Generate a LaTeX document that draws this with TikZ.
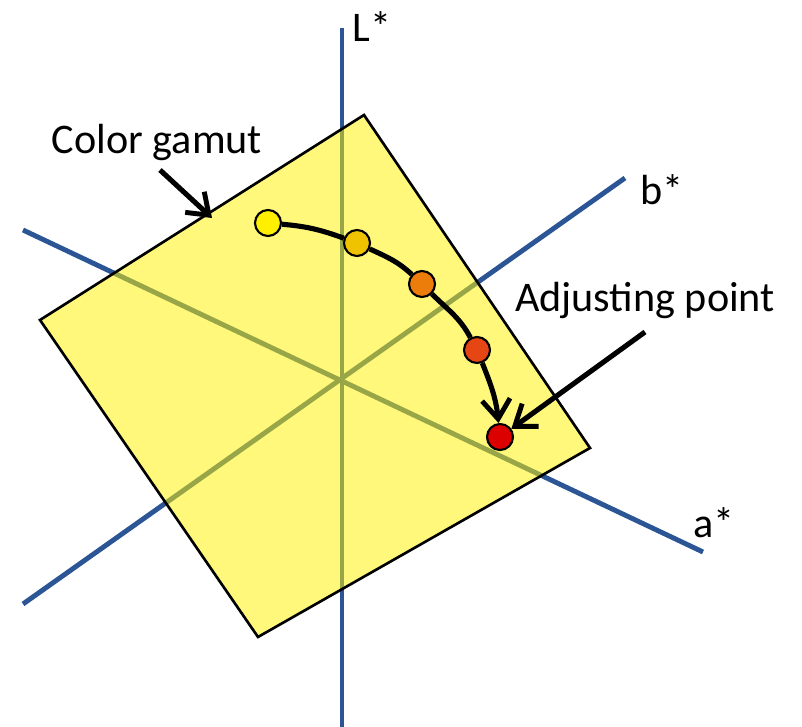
\documentclass[tikz,border=0pt]{standalone}
\usepackage{fontspec}
\setmainfont{Carlito}
\usetikzlibrary{arrows.meta, positioning}

\definecolor{axisblue}{RGB}{43,85,149}
\definecolor{ptyellow}{RGB}{255,240,0}
\definecolor{ptgold}{RGB}{240,195,0}
\definecolor{ptorange}{RGB}{236,125,10}
\definecolor{ptredorange}{RGB}{230,70,20}
\definecolor{ptred}{RGB}{220,0,0}

\begin{document}
\begin{tikzpicture}[
        x=0.02cm, y=0.02cm,
        axis/.style={axisblue, line width=2.8pt},
        gamut/.style={draw=black, line width=1.5pt, fill=yellow, fill opacity=0.52, line join=miter},
        pt/.style={draw=black, circle, line width=1.2pt, minimum size=0.52cm, inner sep=0pt},
        lbl/.style={font=\fontsize{24}{28}\selectfont},
        arrow/.style={-{Straight Barb[length=11pt, width=16pt, line width=2.8pt]}, line width=2.9pt}
    ]
        \useasboundingbox (0,0) rectangle (802,727);

        % === Axes ===
        \coordinate (Ltop) at (342,699);
        \coordinate (Lbot) at (342,0);
        \coordinate (aleft) at (23,497);
        \coordinate (aright) at (703,175);
        \coordinate (bleft) at (23,123);
        \coordinate (bright) at (625,549);
        \draw[axis] (Lbot) -- (Ltop);
        \draw[axis] (aleft) -- (aright);
        \draw[axis] (bleft) -- (bright);

        \node[lbl] (Llbl) at (372,700) {L*};
        \node[lbl] (blbl) at (662,537) {b*};
        \node[lbl] (albl) at (714,204) {a*};

        % === Color gamut ===
        \coordinate (gtop) at (364,612);
        \coordinate (gleft) at (40,407);
        \coordinate (gbot) at (258,90);
        \coordinate (gright) at (590,279);
        \draw[gamut] (gtop) -- (gleft) -- (gbot) -- (gright) -- cycle;

        % === Adjusting path ===
        \node[pt, fill=ptyellow]    (p1) at (268,504) {};
        \node[pt, fill=ptgold]      (p2) at (357,484) {};
        \node[pt, fill=ptorange]    (p3) at (422,443) {};
        \node[pt, fill=ptredorange] (p4) at (477,377) {};
        \node[pt, fill=ptred]       (p5) at (500,290) {};

        \draw[arrow] (p1) to[out=-5, in=160] (p2) to[out=-25, in=137] (p3)
            to[out=-45, in=118] (p4) to[out=-68, in=96] (p5);

        % Annotations
        \node[lbl] (gamutlbl) at (157,585) {Color gamut};
        \coordinate (gamuttip) at (212,509);
        \draw[arrow] (160,557) -- (gamuttip);

        \node[lbl] (adjlbl) at (645,427) {Adjusting point};
        \coordinate (adjstart) at (645,395);
        \draw[arrow] (adjstart) -- (p5);

    \end{tikzpicture}
\end{document}
